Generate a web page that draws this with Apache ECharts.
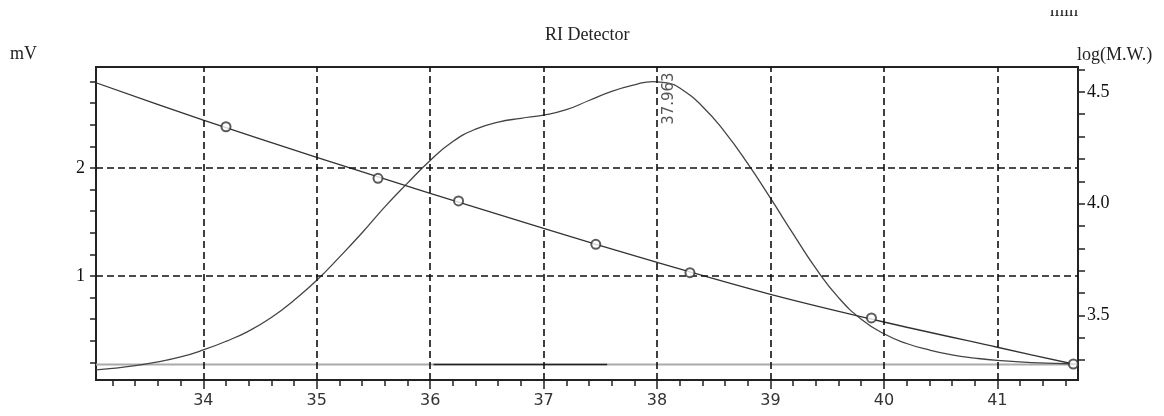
<!DOCTYPE html>
<html>
<head>
<meta charset="utf-8">
<script src="https://cdn.jsdelivr.net/npm/echarts@6/dist/echarts.min.js"></script>
<style>
  html, body { margin: 0; padding: 0; background: #fff; }
  #chart { width: 1164px; height: 416px; }
</style>
</head>
<body>
<div id="chart"></div>
<script>
// Retention time (min) and RI detector signal (mV)
const retentionTime = [33.054, 33.2, 33.4, 33.6, 33.8, 34.0, 34.2, 34.4, 34.6, 34.8, 35.0, 35.2, 35.4, 35.6, 35.8, 36.0, 36.2, 36.4, 36.6, 36.8, 37.0, 37.2, 37.4, 37.6, 37.8, 37.963, 38.1, 38.2, 38.4, 38.6, 38.8, 39.0, 39.2, 39.4, 39.6, 39.8, 40.0, 40.2, 40.4, 40.6, 40.8, 41.0, 41.3, 41.711];
const signalMV    = [0.13, 0.145, 0.17, 0.205, 0.25, 0.315, 0.395, 0.49, 0.615, 0.775, 0.96, 1.175, 1.40, 1.64, 1.86, 2.07, 2.245, 2.36, 2.425, 2.46, 2.49, 2.54, 2.625, 2.71, 2.77, 2.80, 2.785, 2.74, 2.57, 2.33, 2.04, 1.72, 1.39, 1.07, 0.80, 0.60, 0.465, 0.375, 0.315, 0.27, 0.24, 0.218, 0.198, 0.185];

// Peak apex
const peakTime = 37.963;
const peakMV = 2.80;

// Baseline (mV)
const baselineTime = [33.054, 41.711];
const baselineMV = [0.18, 0.18];
const integrationTime = [36.03, 37.56];
const integrationMV = [0.18, 0.18];

// Calibration curve log(M.W.) vs retention time
const calTime  = [33.054, 34, 35, 36, 37, 38, 39, 40, 41, 41.67];
const calLogMW = [4.541, 4.374, 4.207, 4.046, 3.889, 3.737, 3.594, 3.47, 3.357, 3.282];

// Calibration standards
const stdTime  = [34.2, 35.54, 36.25, 37.46, 38.29, 39.89, 41.67];
const stdLogMW = [4.344, 4.113, 4.012, 3.818, 3.691, 3.488, 3.282];

// Axis ticks and labels
const xLabels = [34, 35, 36, 37, 38, 39, 40, 41];
const mvLabels = [1, 2];
const logLabels = [3.5, 4.0, 4.5];
const xMinorTicks = [];
for (let i = 166; i <= 208; i++) xMinorTicks.push(Math.round(i * 2) / 10);
const mvTicks = [];
for (let i = 1; i <= 14; i++) mvTicks.push(Math.round(i * 2) / 10);
const logTicks = [];
for (let i = 33; i <= 46; i++) logTicks.push(i / 10);

const zip = (a, b) => a.map((v, i) => [v, b[i]]);

const serif = "'Liberation Serif', 'DejaVu Serif', serif";
const sans = "'DejaVu Sans', 'Liberation Sans', sans-serif";
const dash = [7, 4];

const gridMarks = xLabels.map(v => ({ xAxis: v })).concat(mvLabels.map(v => ({ yAxis: v })));

const chart = echarts.init(document.getElementById('chart'), null, { renderer: 'canvas' });
chart.setOption({
  animation: false,
  backgroundColor: '#fff',
  grid: {
    left: 96, right: 86, top: 67, bottom: 36,
    show: true, borderColor: '#222', borderWidth: 2, backgroundColor: 'transparent'
  },
  xAxis: [
    {
      type: 'value', min: 33.054, max: 41.711, position: 'bottom',
      axisLine: { show: true, lineStyle: { color: '#222', width: 2 } },
      axisTick: { show: true, customValues: xLabels, length: 9, inside: false, lineStyle: { color: '#222', width: 1.5 } },
      axisLabel: { customValues: xLabels, margin: 13, color: '#333', fontFamily: sans, fontSize: 16 },
      splitLine: { show: false }
    },
    {
      type: 'value', min: 33.054, max: 41.711, position: 'bottom',
      axisLine: { show: false },
      axisTick: { show: true, customValues: xMinorTicks, length: 6, lineStyle: { color: '#222', width: 1.5 } },
      axisLabel: { show: false },
      splitLine: { show: false }
    }
  ],
  yAxis: [
    {
      type: 'value', min: 0.037, max: 2.935, position: 'left',
      axisLine: { show: true, lineStyle: { color: '#222', width: 2 } },
      axisTick: { show: true, customValues: mvTicks, length: 6, lineStyle: { color: '#222', width: 1.5 } },
      axisLabel: { customValues: mvLabels, margin: 11, color: '#111', fontFamily: serif, fontSize: 18 },
      splitLine: { show: false }
    },
    {
      type: 'value', min: 3.2104, max: 4.6115, position: 'right',
      axisLine: { show: true, lineStyle: { color: '#222', width: 2 } },
      axisTick: { show: true, customValues: logTicks, length: 7, lineStyle: { color: '#222', width: 1.5 } },
      axisLabel: { customValues: logLabels, margin: 9, color: '#111', fontFamily: serif, fontSize: 18,
        formatter: v => v.toFixed(1) },
      splitLine: { show: false }
    }
  ],
  series: [
    {
      name: 'grid',
      type: 'line', xAxisIndex: 0, yAxisIndex: 0, data: [], silent: true,
      markLine: {
        silent: true, symbol: ['none', 'none'], label: { show: false },
        lineStyle: { type: dash, color: '#111', width: 1.6 },
        data: gridMarks
      }
    },
    {
      name: 'Baseline',
      type: 'line', xAxisIndex: 0, yAxisIndex: 0, showSymbol: false, symbol: 'none',
      data: zip(baselineTime, baselineMV),
      lineStyle: { color: '#aaa', width: 2 }
    },
    {
      name: 'Integration',
      type: 'line', xAxisIndex: 0, yAxisIndex: 0, showSymbol: false, symbol: 'none',
      data: zip(integrationTime, integrationMV),
      lineStyle: { color: '#222', width: 1.5 }
    },
    {
      name: 'RI',
      type: 'line', xAxisIndex: 0, yAxisIndex: 0, showSymbol: false, symbol: 'none',
      smooth: 0.5,
      data: zip(retentionTime, signalMV),
      lineStyle: { color: '#444', width: 1.3 },
      markPoint: {
        symbol: 'circle', symbolSize: 0,
        data: [{ coord: [peakTime, peakMV], value: peakTime }],
        label: {
          show: true, formatter: p => String(p.value), rotate: 90,
          position: 'inside', offset: [-17, 16],
          color: '#555', fontFamily: sans, fontSize: 15
        }
      }
    },
    {
      name: 'Calibration',
      type: 'line', xAxisIndex: 0, yAxisIndex: 1, showSymbol: false, symbol: 'none',
      smooth: 0.3,
      data: zip(calTime, calLogMW),
      lineStyle: { color: '#333', width: 1.3 }
    },
    {
      name: 'Standards',
      type: 'scatter', xAxisIndex: 0, yAxisIndex: 1,
      symbol: 'emptyCircle', symbolSize: 9,
      data: zip(stdTime, stdLogMW),
      itemStyle: { color: '#333', borderColor: '#333', borderWidth: 1.2 },
      z: 5
    }
  ],
  graphic: [
    { type: 'text', left: 545, top: 26, style: { text: 'RI Detector', font: "18px " + serif, fill: '#222' } },
    { type: 'text', left: 10, top: 45, style: { text: 'mV', font: "18px " + serif, fill: '#222' } },
    { type: 'text', left: 1077, top: 46, style: { text: 'log(M.W.)', font: "18px " + serif, fill: '#222' } },
    { type: 'text', left: 1050, top: 2, style: { text: 'min', font: "18px " + serif, fill: '#222' } },
    { type: 'rect', left: 1040, top: 0, shape: { width: 50, height: 10 }, style: { fill: '#fff' }, z: 10 }
  ]
});
</script>
</body>
</html>
